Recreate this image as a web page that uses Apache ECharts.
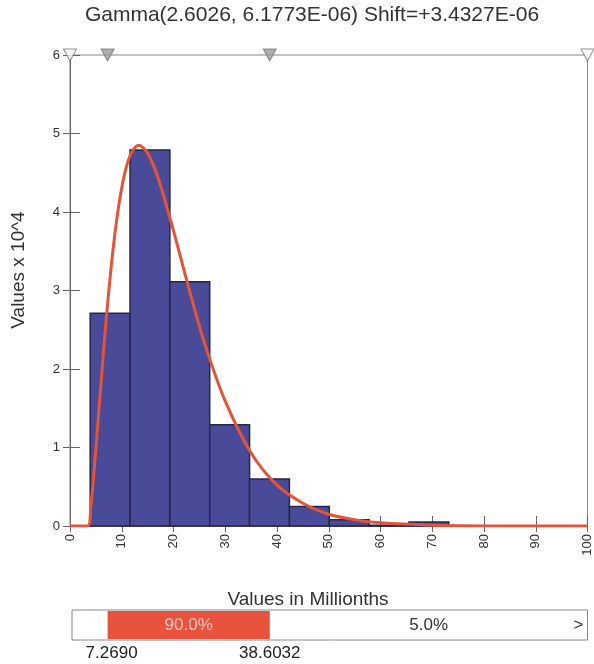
<!DOCTYPE html>
<html>
<head>
<meta charset="utf-8">
<script src="https://cdn.jsdelivr.net/npm/echarts@6/dist/echarts.min.js"></script>
<style>
html,body{margin:0;padding:0;background:#fff;}
#main{width:594px;height:664px;}
</style>
</head>
<body>
<div id="main"></div>
<script>
// ---- data ----
var titleText = 'Gamma(2.6026, 6.1773E-06) Shift=+3.4327E-06';
var xAxisName = 'Values in Millionths';
var yAxisName = 'Values x 10^4';
// histogram bins (values in millionths) and heights (x 10^4)
var binEdges = [3.9, 11.6, 19.3, 27.0, 34.7, 42.4, 50.1, 57.8, 65.5, 73.2];
var binHeights = [2.71, 4.79, 3.11, 1.29, 0.60, 0.25, 0.08, 0.01, 0.05];
// fitted curve points
var curveX = [0, 3.43, 4, 5, 6, 7, 8, 9, 10, 11, 12, 13.3, 15, 17, 20, 23, 26, 30, 35, 40, 45, 50, 55, 60, 70, 80, 100];
var curveY = [0, 0, 0.23, 0.98, 1.83, 2.64, 3.33, 3.89, 4.31, 4.60, 4.77, 4.85, 4.75, 4.44, 3.76, 3.02, 2.33, 1.59, 0.93, 0.52, 0.29, 0.15, 0.08, 0.04, 0.01, 0, 0];
// delimiter markers on the top border
var markerX = [0, 7.269, 38.6032, 100];
var markerFilled = [false, true, true, false];
// bottom probability bar
var leftValue = 7.2690, rightValue = 38.6032;
var leftLabel = '7.2690', rightLabel = '38.6032';
var midPct = '90.0%', rightPct = '5.0%';

var chart = echarts.init(document.getElementById('main'));
var font = 'Liberation Sans, Arial, sans-serif';

var barData = [];
for (var i = 0; i < binHeights.length; i++) barData.push([binEdges[i], binEdges[i + 1], binHeights[i]]);
var curveData = curveX.map(function (x, i) { return [x, curveY[i]]; });
var markerData = markerX.map(function (x, i) {
  return {value: [x, 6], itemStyle: {color: markerFilled[i] ? '#9a9a9a' : '#ffffff', borderColor: '#777', borderWidth: 1}};
});

var option = {
  backgroundColor: '#fff',
  animation: false,
  grid: {left: 70, right: 6, top: 55, bottom: 138, show: true, borderColor: '#888', borderWidth: 1, backgroundColor: 'transparent'},
  xAxis: [{
    type: 'value', min: 0, max: 100, interval: 10,
    axisLine: {show: true, lineStyle: {color: '#666', width: 1}},
    axisTick: {show: true, inside: true, length: 10, lineStyle: {color: '#666'}},
    axisLabel: {rotate: 90, fontSize: 13, color: '#333', fontFamily: font, margin: 8},
    splitLine: {show: false}
  }, {
    type: 'value', min: 0, max: 100, interval: 10, position: 'bottom',
    axisLine: {show: false},
    axisTick: {show: true, inside: false, length: 6, lineStyle: {color: '#666'}},
    axisLabel: {show: false},
    splitLine: {show: false}
  }],
  yAxis: [{
    type: 'value', min: 0, max: 6, interval: 1,
    axisLine: {show: true, lineStyle: {color: '#666', width: 1}},
    axisTick: {show: true, inside: true, length: 10, lineStyle: {color: '#666'}},
    axisLabel: {fontSize: 13, color: '#333', fontFamily: font, margin: 10},
    splitLine: {show: false}
  }, {
    type: 'value', min: 0, max: 6, interval: 1, position: 'left',
    axisLine: {show: false},
    axisTick: {show: true, inside: false, length: 7, lineStyle: {color: '#666'}},
    axisLabel: {show: false},
    splitLine: {show: false}
  }],
  series: [{
    type: 'custom',
    data: barData,
    renderItem: function (params, api) {
      var p0 = api.coord([api.value(0), api.value(2)]);
      var p1 = api.coord([api.value(1), 0]);
      return {
        type: 'rect',
        shape: {x: p0[0], y: p0[1], width: p1[0] - p0[0], height: p1[1] - p0[1]},
        style: {fill: '#4a4b98', stroke: '#26264a', lineWidth: 1.5}
      };
    },
    encode: {x: [0, 1], y: 2},
    z: 2
  }, {
    type: 'line',
    data: curveData,
    smooth: 0.3,
    showSymbol: false,
    lineStyle: {color: '#e5533a', width: 3},
    z: 3
  }, {
    type: 'scatter',
    data: markerData,
    symbol: 'triangle',
    symbolRotate: 180,
    symbolSize: [13, 12],
    z: 5
  }]
};
chart.setOption(option);

var xl = chart.convertToPixel({xAxisIndex: 0}, leftValue);
var xr = chart.convertToPixel({xAxisIndex: 0}, rightValue);
var x0 = 72, x1 = chart.convertToPixel({xAxisIndex: 0}, 100);
var boxTop = 610, boxH = 30;

chart.setOption({
  graphic: [
    {type: 'text', x: 312, y: 15, style: {text: titleText, font: '21px ' + font, fill: '#333', textAlign: 'center', textVerticalAlign: 'middle'}},
    {type: 'text', x: 308, y: 600, style: {text: xAxisName, font: '19px ' + font, fill: '#333', textAlign: 'center', textVerticalAlign: 'middle'}},
    {type: 'text', x: 19, y: 270, rotation: Math.PI / 2, style: {text: yAxisName, font: '19px ' + font, fill: '#333', textAlign: 'center', textVerticalAlign: 'middle'}},
    {type: 'rect', shape: {x: x0, y: boxTop, width: x1 - x0, height: boxH}, style: {fill: '#fff', stroke: '#888', lineWidth: 1}},
    {type: 'rect', shape: {x: xl, y: boxTop + 1, width: xr - xl, height: boxH - 2}, style: {fill: '#e9533d'}},
    {type: 'text', x: (xl + xr) / 2, y: boxTop + boxH / 2, style: {text: midPct, font: '17px ' + font, fill: '#f6c9c0', textAlign: 'center', textVerticalAlign: 'middle'}},
    {type: 'text', x: (xr + x1) / 2, y: boxTop + boxH / 2, style: {text: rightPct, font: '17px ' + font, fill: '#333', textAlign: 'center', textVerticalAlign: 'middle'}},
    {type: 'text', x: x1 - 4, y: boxTop + boxH / 2, style: {text: '>', font: '17px ' + font, fill: '#333', textAlign: 'right', textVerticalAlign: 'middle'}},
    {type: 'text', x: xl + 4, y: 653, style: {text: leftLabel, font: '17px ' + font, fill: '#222', textAlign: 'center', textVerticalAlign: 'middle'}},
    {type: 'text', x: xr, y: 653, style: {text: rightLabel, font: '17px ' + font, fill: '#222', textAlign: 'center', textVerticalAlign: 'middle'}}
  ]
});
</script>
</body>
</html>
